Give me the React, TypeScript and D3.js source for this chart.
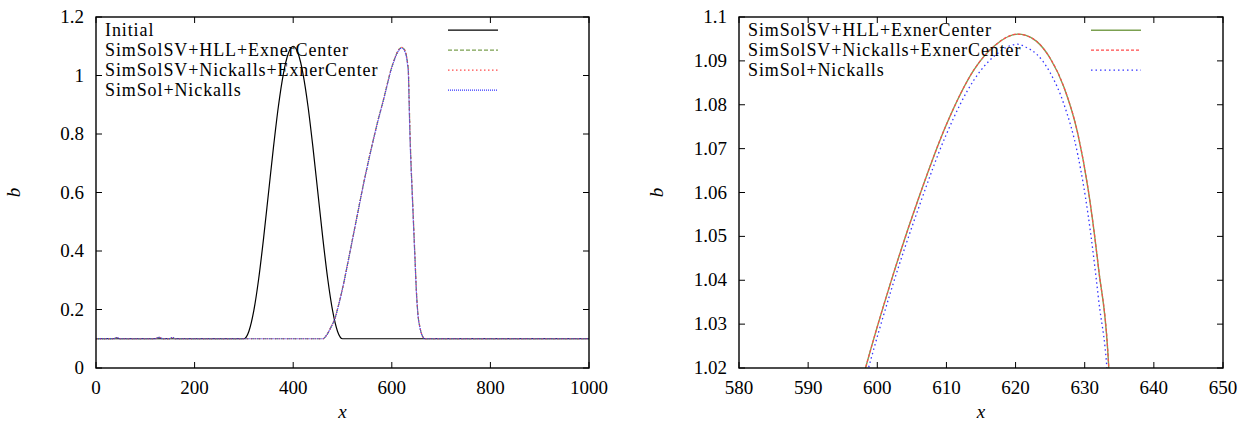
import React from 'react';
import * as d3 from 'd3';

// initial bump
const initX = [0, 300, 310, 320, 330, 340, 350, 360, 370, 380, 390, 400, 410, 420, 430, 440, 450, 460, 470, 480, 490, 500, 1000];
const initB = [0.1, 0.1, 0.125, 0.195, 0.305, 0.445, 0.6, 0.755, 0.895, 1.005, 1.075, 1.1, 1.075, 1.005, 0.895, 0.755, 0.6, 0.445, 0.305, 0.195, 0.125, 0.1, 0.1];

// transported bump (same x grid for the three schemes)
const pulseX = [0, 35, 42, 50, 120, 128, 136, 148, 155, 162, 460, 468, 476, 485, 493, 501.6, 512, 522, 532, 542, 552, 562, 572, 583, 591, 598.3, 602, 606, 610, 614, 617, 620.3, 621.5, 623, 625, 627, 629, 630.5, 632, 633.5, 635, 637, 639, 641, 644, 647, 650, 653, 657, 662, 667, 1000];
const hllB = [0.1, 0.1, 0.104, 0.1, 0.1, 0.105, 0.1, 0.1, 0.104, 0.1, 0.1, 0.113, 0.138, 0.172, 0.222, 0.284, 0.37, 0.455, 0.54, 0.625, 0.703, 0.777, 0.847, 0.917, 0.972, 1.02, 1.0398, 1.0588, 1.0755, 1.088, 1.0935, 1.0961, 1.0958, 1.0945, 1.0906, 1.084, 1.0734, 1.0607, 1.0427, 1.0194, 0.93, 0.8, 0.7, 0.62, 0.5, 0.38, 0.26, 0.185, 0.14, 0.11, 0.1, 0.1];
const nickallsExnerB = [0.1, 0.1, 0.104, 0.1, 0.1, 0.105, 0.1, 0.1, 0.104, 0.1, 0.1, 0.113, 0.138, 0.172, 0.222, 0.284, 0.37, 0.455, 0.54, 0.625, 0.703, 0.777, 0.847, 0.917, 0.972, 1.02, 1.0398, 1.0588, 1.0755, 1.088, 1.0935, 1.0961, 1.0958, 1.0945, 1.0906, 1.084, 1.0734, 1.0607, 1.0427, 1.0194, 0.93, 0.8, 0.7, 0.62, 0.5, 0.38, 0.26, 0.185, 0.14, 0.11, 0.1, 0.1];
const simSolB = [0.1, 0.1, 0.104, 0.1, 0.1, 0.105, 0.1, 0.1, 0.104, 0.1, 0.1, 0.113, 0.137, 0.171, 0.221, 0.283, 0.369, 0.454, 0.539, 0.623, 0.701, 0.775, 0.845, 0.915, 0.969, 1.0175, 1.0377, 1.0566, 1.0733, 1.0857, 1.0912, 1.0938, 1.0931, 1.0916, 1.0873, 1.0801, 1.0686, 1.0548, 1.0357, 1.0125, 0.91, 0.78, 0.69, 0.61, 0.49, 0.37, 0.255, 0.182, 0.138, 0.109, 0.1, 0.1];

const leftXTicks = [0, 200, 400, 600, 800, 1000];
const leftYTicks = [0, 0.2, 0.4, 0.6, 0.8, 1, 1.2];
const rightXTicks = [580, 590, 600, 610, 620, 630, 640, 650];
const rightYTicks = [1.02, 1.03, 1.04, 1.05, 1.06, 1.07, 1.08, 1.09, 1.1];

const FONT = 'Liberation Serif, Times New Roman, Times, DejaVu Serif, serif';
const GREEN = '#7ba050';
const RED = '#ff4a4a';
const BLUE = '#3535ff';

type Series = { label: string; xs: number[]; ys: number[]; color: string; width: number; dash?: string };

const Panel = ({ id, xDomain, yDomain, left, right, keyX, xTicks, yTicks, series }:
  { id: string; xDomain: number[]; yDomain: number[]; left: number; right: number; keyX: number; xTicks: number[]; yTicks: number[]; series: Series[] }) => {
  const top = 17, bottom = 368;
  const x = d3.scaleLinear().domain(xDomain).range([left, right]);
  const y = d3.scaleLinear().domain(yDomain).range([bottom, top]);
  const line = d3.line<[number, number]>().x(d => x(d[0])).y(d => y(d[1])).curve(d3.curveMonotoneX);
  const tl = 6;
  const tick = { fontFamily: FONT, fontSize: 19 };
  const key = { fontFamily: FONT, fontSize: 18, letterSpacing: '0.9px' };
  const rowH = 20, row0 = 35.8;
  return (
    <g>
      <defs>
        <clipPath id={`clip-${id}`}>
          <rect x={left} y={top} width={right - left} height={bottom - top} />
        </clipPath>
      </defs>
      <g clipPath={`url(#clip-${id})`}>
        {series.map((s, i) => (
          <path key={i} d={line(s.xs.map((v, k) => [v, s.ys[k]]) as [number, number][]) || ''}
            fill="none" stroke={s.color} strokeWidth={s.width} strokeDasharray={s.dash} />
        ))}
      </g>
      {/* ticks */}
      {xTicks.map(t => (
        <g key={'x' + t}>
          <line x1={x(t)} x2={x(t)} y1={bottom} y2={bottom - tl} stroke="#000" />
          <line x1={x(t)} x2={x(t)} y1={top} y2={top + tl} stroke="#000" />
          <text x={x(t)} y={394} textAnchor="middle" style={tick}>{String(t)}</text>
        </g>
      ))}
      {yTicks.map(t => (
        <g key={'y' + t}>
          <line x1={left} x2={left + tl} y1={y(t)} y2={y(t)} stroke="#000" />
          <line x1={right} x2={right - tl} y1={y(t)} y2={y(t)} stroke="#000" />
          <text x={left - 12} y={y(t) + 6} textAnchor="end" style={tick}>{String(t)}</text>
        </g>
      ))}
      <rect x={left} y={top} width={right - left} height={bottom - top} fill="none" stroke="#000" strokeWidth={1.4} />
      {/* legend */}
      {series.map((s, i) => (
        <g key={'l' + i}>
          <text x={left + 9} y={row0 + i * rowH} style={key}>{s.label}</text>
          <line x1={keyX} x2={keyX + 50} y1={row0 - 5.6 + i * rowH} y2={row0 - 5.6 + i * rowH}
            stroke={s.color} strokeWidth={s.width} strokeDasharray={s.dash} />
        </g>
      ))}
      {/* axis labels */}
      <text x={(left + right) / 2} y={418} textAnchor="middle" style={{ ...tick, fontStyle: 'italic' }}>x</text>
      <text transform={`translate(${left - 76},${(top + bottom) / 2}) rotate(-90)`} textAnchor="middle"
        style={{ ...tick, fontStyle: 'italic' }}>b</text>
    </g>
  );
};

export default function App() {
  const leftSeries: Series[] = [
    { label: 'Initial', xs: initX, ys: initB, color: '#000', width: 1.2 },
    { label: 'SimSolSV+HLL+ExnerCenter', xs: pulseX, ys: hllB, color: GREEN, width: 1.2, dash: '4,2' },
    { label: 'SimSolSV+Nickalls+ExnerCenter', xs: pulseX, ys: nickallsExnerB, color: RED, width: 1.2, dash: '1.5,2.5' },
    { label: 'SimSol+Nickalls', xs: pulseX, ys: simSolB, color: BLUE, width: 1.2, dash: '1,1' },
  ];
  const rightSeries: Series[] = [
    { label: 'SimSolSV+HLL+ExnerCenter', xs: pulseX, ys: hllB, color: GREEN, width: 1.4 },
    { label: 'SimSolSV+Nickalls+ExnerCenter', xs: pulseX, ys: nickallsExnerB, color: RED, width: 1.2, dash: '3,2' },
    { label: 'SimSol+Nickalls', xs: pulseX, ys: simSolB, color: BLUE, width: 1.3, dash: '1.5,3' },
  ];
  return (
    <svg width={1245} height={421} style={{ position: 'absolute', left: 0, top: 0, background: '#fff' }}>
      <Panel id="l" xDomain={[0, 1000]} yDomain={[0, 1.2]} left={96} right={589} keyX={448}
        xTicks={leftXTicks} yTicks={leftYTicks} series={leftSeries} />
      <Panel id="r" xDomain={[580, 650]} yDomain={[1.02, 1.1]} left={739} right={1223} keyX={1091}
        xTicks={rightXTicks} yTicks={rightYTicks} series={rightSeries} />
    </svg>
  );
}
